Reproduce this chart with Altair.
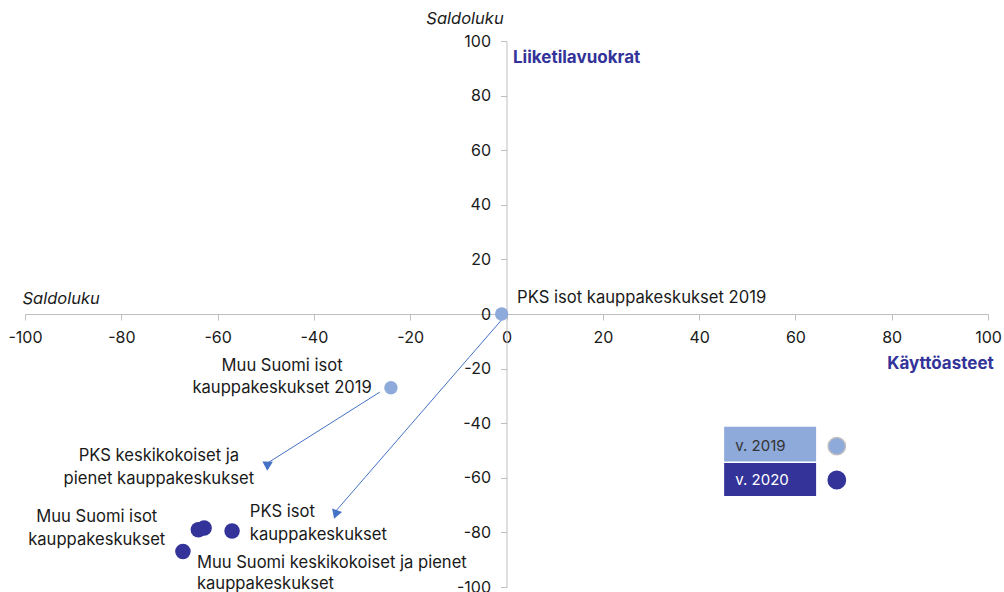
import altair as alt
import pandas as pd
import math

FONT = "Inter"
DARK = "#333399"
LIGHT = "#8eaadb"

# Data points
p2019_x = [-1, -24]
p2019_y = [0, -27]
p2020_x = [-62.8, -64.0, -57.0, -67.2]
p2020_y = [-78.4, -79.0, -79.5, -87.0]

# Point labels (one row per text line)
lab_text = ["PKS isot kauppakeskukset 2019",
            "Muu Suomi isot", "kauppakeskukset 2019",
            "PKS keskikokoiset ja", "pienet kauppakeskukset",
            "Muu Suomi isot", "kauppakeskukset",
            "PKS isot", "kauppakeskukset",
            "Muu Suomi keskikokoiset ja pienet", "kauppakeskukset"]
lab_x = [2.2, -46.6, -46.6, -72.2, -72.2, -85.1, -85.1, -53.3, -53.3, -64.3, -64.3]
lab_y = [6.0, -19.0, -27.1, -52.0, -60.4, -74.4, -82.8, -72.5, -81.0, -91.2, -98.9]
lab_align = ["left", "center", "center", "center", "center", "center", "center",
             "left", "left", "left", "left"]

# Arrows (start -> end, data coordinates)
arr_x = [-0.7, -26.3]
arr_y = [-1.5, -28.6]
arr_x2 = [-35.6, -49.9]
arr_y2 = [-72.5, -54.9]

# Legend
leg_text = ["v. 2019", "v. 2020"]
leg_x1 = [45.2, 45.2]
leg_x2 = [64.3, 64.3]
leg_y1 = [-41.3, -54.6]
leg_y2 = [-54.0, -66.7]
leg_tx = [47.5, 47.5]
leg_cx = [68.6, 68.6]
leg_cy = [-48.4, -60.8]

W, H = 963, 546
xs = alt.Scale(domain=[-100, 100], nice=False)
ys = alt.Scale(domain=[-100, 100], nice=False)

pts = pd.DataFrame({
    "x": p2019_x + p2020_x,
    "y": p2019_y + p2020_y,
    "year": ["2019"] * len(p2019_x) + ["2020"] * len(p2020_x),
})

xaxis = alt.Axis(values=list(range(-100, 101, 20)), offset=-H / 2, grid=False,
                 domainColor="#bfbfbf", tickColor="#bfbfbf", tickSize=6,
                 labelFont=FONT, labelFontSize=16, labelColor="#1a1a1a",
                 labelPadding=9, labelFlush=False, labelExpr="'' + datum.value",
                 title="Saldoluku", titleFont=FONT, titleFontSize=16.5,
                 titleFontStyle="italic", titleFontWeight="normal", titleColor="#1a1a1a",
                 titleAlign="left", titleBaseline="middle", titleX=-3, titleY=-16,
                 titleAngle=0)
yaxis = alt.Axis(values=list(range(-100, 101, 20)), offset=-W / 2, grid=False,
                 domainColor="#bfbfbf", tickColor="#bfbfbf", tickSize=6,
                 labelFont=FONT, labelFontSize=16, labelColor="#1a1a1a",
                 labelPadding=10, labelFlush=False, labelExpr="'' + datum.value",
                 title="Saldoluku", titleFont=FONT, titleFontSize=16.5,
                 titleFontStyle="italic", titleFontWeight="normal", titleColor="#1a1a1a",
                 titleAlign="center", titleBaseline="middle", titleX=-42, titleY=-23,
                 titleAngle=0)

base_pts = alt.Chart(pts).mark_circle(opacity=1).encode(
    x=alt.X("x:Q", scale=xs, axis=xaxis),
    y=alt.Y("y:Q", scale=ys, axis=yaxis),
    color=alt.Color("year:N", scale=alt.Scale(domain=["2019", "2020"], range=[LIGHT, DARK]), legend=None),
    size=alt.Size("year:N", scale=alt.Scale(domain=["2019", "2020"], range=[180, 240]), legend=None),
)

arr = pd.DataFrame({"x": arr_x, "y": arr_y, "x2": arr_x2, "y2": arr_y2})
px_per_x = W / 200
px_per_y = H / 200
arr["angle"] = [
    (math.degrees(math.atan2((b - a) * px_per_x, -(d - c) * px_per_y))) % 360
    for a, b, c, d in zip(arr_x, arr_x2, arr_y, arr_y2)
]
lines = alt.Chart(arr).mark_rule(color="#4472c4", strokeWidth=1).encode(
    x=alt.X("x:Q", scale=xs), y=alt.Y("y:Q", scale=ys),
    x2="x2:Q", y2="y2:Q")
heads = alt.Chart(arr).mark_point(shape="triangle-up", filled=True, color="#4472c4",
                                  size=110, opacity=1).encode(
    x=alt.X("x2:Q", scale=xs), y=alt.Y("y2:Q", scale=ys), angle=alt.Angle("angle:Q", scale=None))

labs = pd.DataFrame({"t": lab_text, "x": lab_x, "y": lab_y, "a": lab_align})
label_layers = []
for al in ["left", "center"]:
    label_layers.append(
        alt.Chart(labs[labs.a == al]).mark_text(align=al, baseline="middle", font=FONT,
                                                fontSize=16.6, color="#1a1a1a").encode(
            x=alt.X("x:Q", scale=xs), y=alt.Y("y:Q", scale=ys), text="t:N"))

ann = pd.DataFrame({"t": ["Liiketilavuokrat", "Käyttöasteet"], "x": [1.35, 101.2],
                    "y": [93.8, -18.3], "a": ["left", "right"]})
ann_layers = []
for i in range(2):
    ann_layers.append(
        alt.Chart(ann.iloc[[i]]).mark_text(align=ann.a[i], baseline="middle", font=FONT,
                                           fontSize=17, fontWeight="bold", color=DARK).encode(
            x=alt.X("x:Q", scale=xs), y=alt.Y("y:Q", scale=ys), text="t:N"))

leg = pd.DataFrame({"t": leg_text, "x1": leg_x1, "x2": leg_x2, "y1": leg_y1, "y2": leg_y2,
                    "tx": leg_tx, "cx": leg_cx, "cy": leg_cy, "year": ["2019", "2020"]})
leg_rect = alt.Chart(leg).mark_rect().encode(
    x=alt.X("x1:Q", scale=xs), x2="x2:Q", y=alt.Y("y1:Q", scale=ys), y2="y2:Q",
    color=alt.Color("year:N", scale=alt.Scale(domain=["2019", "2020"], range=[LIGHT, DARK]), legend=None))
leg_txt = alt.Chart(leg).mark_text(align="left", baseline="middle", font=FONT, fontSize=15).encode(
    x=alt.X("tx:Q", scale=xs), y=alt.Y("cy:Q", scale=ys), text="t:N",
    color=alt.Color("year:N", scale=alt.Scale(domain=["2019", "2020"], range=["#333333", "#ffffff"]), legend=None))
leg_circ = alt.Chart(leg).mark_point(filled=True, shape="circle", size=300, opacity=1,
                                     strokeWidth=1.5).encode(
    x=alt.X("cx:Q", scale=xs), y=alt.Y("cy:Q", scale=ys),
    fill=alt.Fill("year:N", scale=alt.Scale(domain=["2019", "2020"], range=[LIGHT, DARK]), legend=None),
    stroke=alt.Stroke("year:N", scale=alt.Scale(domain=["2019", "2020"], range=["#bfbfbf", DARK]), legend=None))

chart = alt.layer(lines, heads, base_pts, *label_layers, *ann_layers, leg_rect, leg_txt, leg_circ).properties(
    width=W, height=H,
    autosize=alt.AutoSizeParams(type="none"),
    padding={"left": 25, "top": 41, "right": 16, "bottom": 5},
).resolve_scale(color="independent").configure_view(stroke=None)

chart.save("out.html", embed_options={"renderer": "svg", "actions": False})
